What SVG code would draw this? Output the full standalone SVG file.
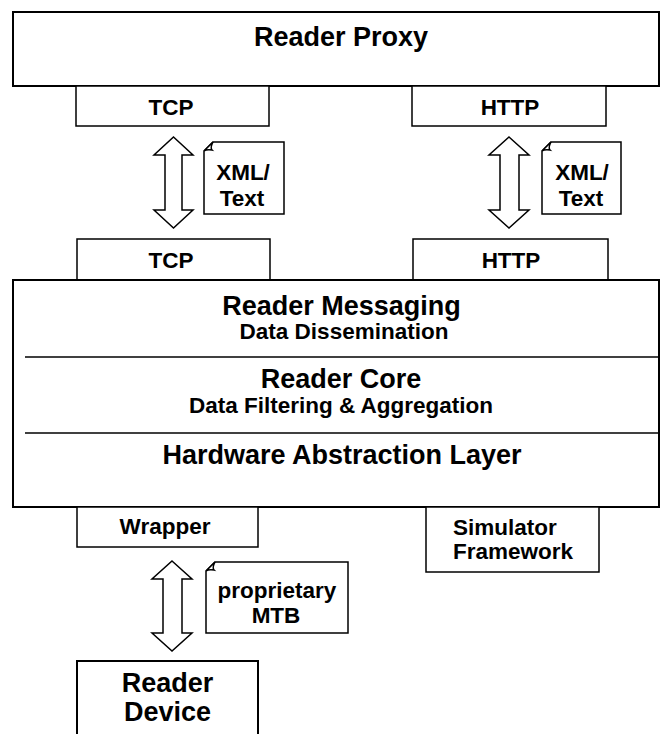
<svg xmlns="http://www.w3.org/2000/svg" width="661" height="734" viewBox="0 0 661 734">
<style>
  .big{fill:#fff;stroke:#000;stroke-width:2}
  .box{fill:#fff;stroke:#000;stroke-width:1.5}
  .sep{stroke:#000;stroke-width:1.5}
  .arrow{fill:#fff;stroke:#000;stroke-width:1.5;stroke-linejoin:miter}
  .note{fill:#fff;stroke:#000;stroke-width:1.5}
  text{font-family:"Liberation Sans",Arial,Helvetica,sans-serif;font-weight:bold;fill:#000;text-anchor:middle}
  .t1{font-size:27px}
  .t2{font-size:22.5px}
</style>
<rect width="661" height="734" fill="#fff"/>

<g id="reader-proxy">
  <rect class="big" x="13" y="12" width="646" height="74"/>
  <text class="t1" x="341" y="46">Reader Proxy</text>
</g>
<g id="proxy-tcp">
  <rect class="box" x="76" y="86" width="193" height="40"/>
  <text class="t2" x="171" y="115">TCP</text>
</g>
<g id="proxy-http">
  <rect class="box" x="412" y="86" width="194" height="40"/>
  <text class="t2" x="510" y="115">HTTP</text>
</g>

<g id="connectors">
  <path class="arrow" d="M173.5,137 L193,155 L182,155 L182,210 L193,210 L173.5,228 L154,210 L165,210 L165,155 L154,155 Z"/>
  <path class="arrow" d="M509,137 L529,155 L519,155 L519,210 L529,210 L509,228 L489,210 L500,210 L500,155 L489,155 Z"/>
  <path class="arrow" d="M172,561 L192,579 L182,579 L182,633 L192,633 L172,651 L152,633 L163,633 L163,579 L152,579 Z"/>
</g>

<g id="note-tcp">
  <path class="note" d="M213,142 L284,142 L284,214 L204,214 L204,151 Z"/>
  <path class="note" d="M204,151 L213,142 Q210,148 212,150 Q207,149 204,151 Z"/>
  <text class="t2" x="243" y="180">XML/</text>
  <text class="t2" x="242" y="205.5">Text</text>
</g>
<g id="note-http">
  <path class="note" d="M551,142 L621,142 L621,214 L542,214 L542,151 Z"/>
  <path class="note" d="M542,151 L551,142 Q548,148 550,150 Q545,149 542,151 Z"/>
  <text class="t2" x="582" y="180">XML/</text>
  <text class="t2" x="581" y="205.5">Text</text>
</g>

<g id="core-tcp">
  <rect class="box" x="77" y="239" width="193" height="41"/>
  <text class="t2" x="171" y="268">TCP</text>
</g>
<g id="core-http">
  <rect class="box" x="413" y="239" width="195" height="41"/>
  <text class="t2" x="511" y="268">HTTP</text>
</g>

<g id="reader-core">
  <rect class="big" x="13" y="280" width="646" height="227"/>
  <line class="sep" x1="25" y1="357" x2="658" y2="357"/>
  <line class="sep" x1="25" y1="433" x2="658" y2="433"/>
  <text class="t1" x="341.5" y="315">Reader Messaging</text>
  <text class="t2" x="344" y="339">Data Dissemination</text>
  <text class="t1" x="341" y="388">Reader Core</text>
  <text class="t2" x="341" y="413">Data Filtering &amp; Aggregation</text>
  <text class="t1" x="342" y="464">Hardware Abstraction Layer</text>
</g>

<g id="wrapper">
  <rect class="box" x="77" y="507" width="181" height="40"/>
  <text class="t2" x="165" y="534">Wrapper</text>
</g>
<g id="simulator">
  <rect class="box" x="426" y="507" width="173" height="65"/>
  <text class="t2" x="453" y="535" style="text-anchor:start">Simulator</text>
  <text class="t2" x="453" y="559" style="text-anchor:start">Framework</text>
</g>

<g id="note-mtb">
  <path class="note" d="M215,562 L348,562 L348,633 L206,633 L206,571 Z"/>
  <path class="note" d="M206,571 L215,562 Q212,568 214,570 Q209,569 206,571 Z"/>
  <text class="t2" x="277" y="598">proprietary</text>
  <text class="t2" x="276" y="623">MTB</text>
</g>

<g id="reader-device">
  <rect class="big" x="77" y="661" width="181" height="80"/>
  <text class="t1" x="167.5" y="692">Reader</text>
  <text class="t1" x="167.5" y="721">Device</text>
</g>
</svg>
